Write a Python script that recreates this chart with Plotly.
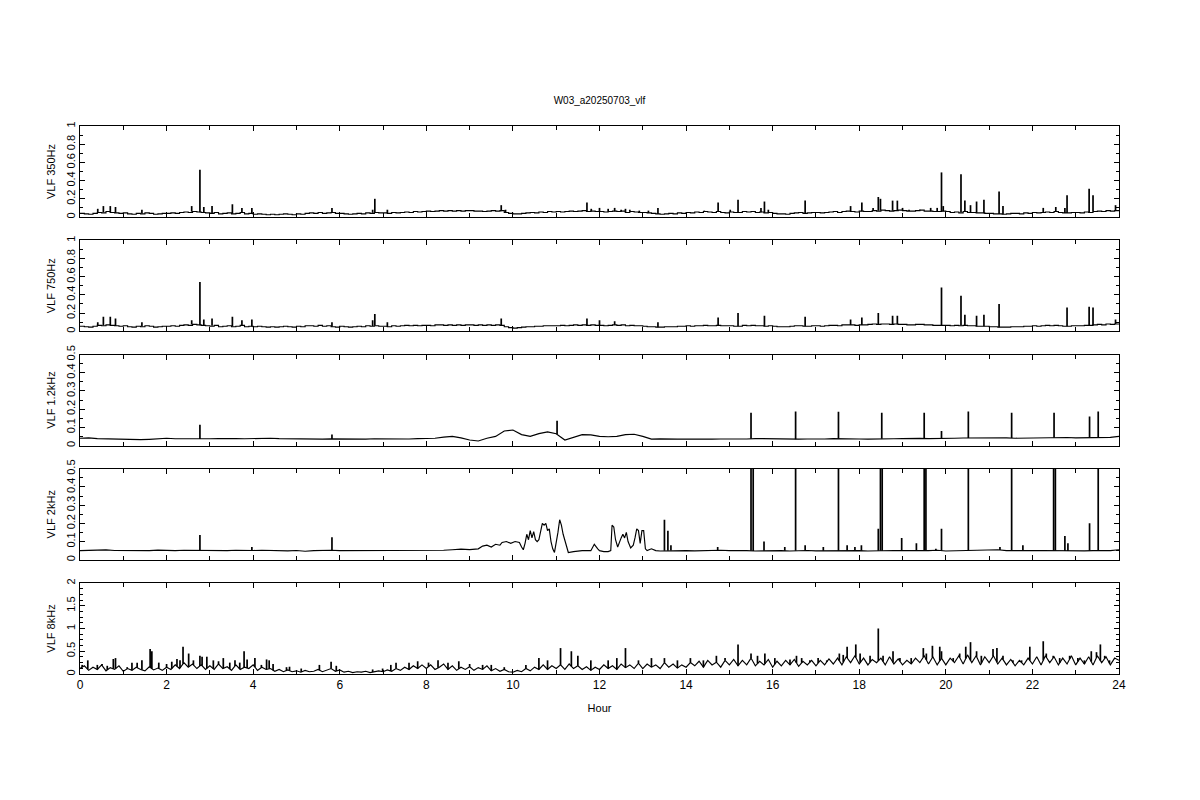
import numpy as np
import plotly.graph_objects as go

# ---------------- data ----------------
GRID_02 = [round(i * 0.2, 1) for i in range(121)]   # sample hours, 0.2 h step
GRID_01 = [round(i * 0.1, 1) for i in range(241)]   # sample hours, 0.1 h step

BASE_350 = [
    0.04, 0.035, 0.03, 0.04, 0.05, 0.045, 0.06, 0.05, 0.045, 0.04,
    0.045, 0.035, 0.03, 0.04, 0.035, 0.045, 0.04, 0.03, 0.035, 0.04,
    0.04, 0.045, 0.04, 0.05, 0.055, 0.05, 0.06, 0.055, 0.05, 0.045,
    0.04, 0.05, 0.035, 0.04, 0.045, 0.035, 0.04, 0.05, 0.035, 0.04,
    0.03, 0.035, 0.03, 0.025, 0.03, 0.025, 0.03, 0.035, 0.03, 0.025,
    0.035, 0.03, 0.04, 0.045, 0.04, 0.05, 0.04, 0.045, 0.05, 0.04,
    0.04, 0.035, 0.03, 0.035, 0.04, 0.035, 0.045, 0.04, 0.05, 0.045,
    0.045, 0.04, 0.05, 0.045, 0.05, 0.055, 0.05, 0.06, 0.055, 0.06,
    0.065, 0.06, 0.065, 0.07, 0.065, 0.07, 0.065, 0.07, 0.065, 0.07,
    0.07, 0.065, 0.065, 0.06, 0.065, 0.07, 0.065, 0.07, 0.05, 0.04,
    0.035, 0.035, 0.04, 0.045, 0.05, 0.045, 0.055, 0.05, 0.06, 0.055,
    0.06, 0.055, 0.06, 0.065, 0.06, 0.065, 0.07, 0.06, 0.065, 0.06,
    0.06, 0.055, 0.06, 0.065, 0.06, 0.065, 0.05, 0.06, 0.055, 0.05,
    0.05, 0.045, 0.04, 0.035, 0.03, 0.035, 0.04, 0.035, 0.045, 0.04,
    0.05, 0.045, 0.055, 0.05, 0.06, 0.055, 0.05, 0.06, 0.05, 0.045,
    0.055, 0.05, 0.05, 0.06, 0.055, 0.06, 0.05, 0.055, 0.045, 0.05,
    0.04, 0.035, 0.035, 0.03, 0.04, 0.045, 0.05, 0.04, 0.045, 0.05,
    0.05, 0.045, 0.05, 0.055, 0.06, 0.05, 0.06, 0.065, 0.06, 0.055,
    0.065, 0.06, 0.06, 0.07, 0.065, 0.075, 0.07, 0.065, 0.07, 0.075,
    0.07, 0.065, 0.065, 0.07, 0.075, 0.065, 0.065, 0.06, 0.06, 0.065,
    0.06, 0.05, 0.055, 0.045, 0.06, 0.05, 0.05, 0.045, 0.045, 0.04,
    0.04, 0.035, 0.035, 0.03, 0.035, 0.04, 0.04, 0.035, 0.045, 0.04,
    0.05, 0.045, 0.05, 0.055, 0.05, 0.06, 0.05, 0.045, 0.045, 0.05,
    0.05, 0.045, 0.055, 0.05, 0.06, 0.065, 0.06, 0.07, 0.065, 0.07, 0.07,
]
SPIKE_350_HOURS = [0.41, 0.54, 0.7, 0.82, 1.43, 2.58, 2.77, 2.86, 3.05, 3.52, 3.74, 3.97, 5.82, 6.76, 6.81, 7.1,
                   9.73, 9.83, 11.71, 11.81, 12.0, 12.2, 12.35, 12.5, 12.6, 12.7, 12.92, 13.13, 13.35, 14.42,
                   14.74, 15.02, 15.2, 15.73, 15.81, 15.9, 16.75, 17.8, 18.06, 18.32, 18.44, 18.49, 18.77, 18.88,
                   19.0, 19.15, 19.4, 19.65, 19.8, 19.9, 19.94, 20.35, 20.44, 20.57, 20.71, 20.88, 21.23, 21.32,
                   22.25, 22.54, 22.75, 22.8, 23.31, 23.4, 23.92]
SPIKE_350_VALUES = [0.09, 0.12, 0.12, 0.11, 0.08, 0.12, 0.52, 0.11, 0.12, 0.14, 0.1, 0.1, 0.1, 0.08, 0.2, 0.08,
                    0.13, 0.08, 0.16, 0.09, 0.1, 0.09, 0.1, 0.08, 0.09, 0.08, 0.07, 0.07, 0.1, 0.07,
                    0.16, 0.08, 0.19, 0.1, 0.17, 0.08, 0.18, 0.12, 0.16, 0.1, 0.22, 0.2, 0.18, 0.18,
                    0.1, 0.08, 0.08, 0.1, 0.1, 0.49, 0.12, 0.47, 0.18, 0.13, 0.17, 0.19, 0.28, 0.12,
                    0.1, 0.11, 0.1, 0.24, 0.31, 0.24, 0.13]

BASE_750 = [
    0.055, 0.05, 0.045, 0.055, 0.065, 0.06, 0.07, 0.065, 0.06, 0.055,
    0.06, 0.05, 0.045, 0.055, 0.05, 0.06, 0.055, 0.045, 0.05, 0.055,
    0.055, 0.06, 0.055, 0.065, 0.07, 0.065, 0.075, 0.07, 0.065, 0.06,
    0.055, 0.065, 0.05, 0.055, 0.06, 0.05, 0.055, 0.065, 0.05, 0.055,
    0.05, 0.055, 0.05, 0.045, 0.05, 0.045, 0.05, 0.055, 0.05, 0.045,
    0.055, 0.05, 0.06, 0.06, 0.055, 0.065, 0.055, 0.06, 0.05, 0.045,
    0.055, 0.05, 0.045, 0.05, 0.055, 0.05, 0.06, 0.055, 0.06, 0.055,
    0.055, 0.05, 0.06, 0.055, 0.06, 0.065, 0.06, 0.065, 0.06, 0.065,
    0.065, 0.06, 0.07, 0.07, 0.065, 0.07, 0.065, 0.07, 0.065, 0.07,
    0.07, 0.065, 0.07, 0.065, 0.07, 0.065, 0.07, 0.065, 0.05, 0.04,
    0.035, 0.04, 0.045, 0.05, 0.05, 0.055, 0.055, 0.06, 0.06, 0.06,
    0.06, 0.065, 0.06, 0.065, 0.07, 0.065, 0.07, 0.065, 0.07, 0.065,
    0.065, 0.06, 0.065, 0.07, 0.065, 0.07, 0.06, 0.065, 0.06, 0.06,
    0.055, 0.05, 0.05, 0.045, 0.045, 0.05, 0.05, 0.05, 0.055, 0.055,
    0.06, 0.055, 0.06, 0.06, 0.065, 0.06, 0.06, 0.065, 0.06, 0.06,
    0.06, 0.055, 0.055, 0.065, 0.06, 0.065, 0.06, 0.06, 0.055, 0.06,
    0.055, 0.05, 0.05, 0.05, 0.055, 0.06, 0.06, 0.055, 0.055, 0.06,
    0.06, 0.055, 0.06, 0.065, 0.065, 0.06, 0.07, 0.07, 0.07, 0.065,
    0.07, 0.07, 0.075, 0.08, 0.075, 0.08, 0.08, 0.075, 0.08, 0.075,
    0.075, 0.07, 0.07, 0.075, 0.075, 0.07, 0.07, 0.065, 0.065, 0.065,
    0.065, 0.06, 0.065, 0.06, 0.065, 0.06, 0.06, 0.055, 0.055, 0.055,
    0.05, 0.05, 0.045, 0.045, 0.045, 0.05, 0.05, 0.05, 0.055, 0.055,
    0.06, 0.055, 0.06, 0.065, 0.06, 0.065, 0.06, 0.055, 0.055, 0.06,
    0.06, 0.06, 0.065, 0.065, 0.07, 0.075, 0.07, 0.08, 0.075, 0.08, 0.08,
]
SPIKE_750_HOURS = [0.41, 0.54, 0.7, 0.82, 1.43, 2.58, 2.77, 2.86, 3.05, 3.52, 3.74, 3.97, 5.82, 6.76, 6.81, 7.1,
                   9.73, 11.71, 12.0, 12.35, 13.35, 14.74, 15.2, 15.81, 16.75, 17.8, 18.06, 18.44, 18.77, 18.88,
                   19.9, 20.35, 20.44, 20.71, 20.88, 21.23, 22.8, 23.31, 23.4, 23.92]
SPIKE_750_VALUES = [0.1, 0.16, 0.16, 0.14, 0.1, 0.12, 0.54, 0.13, 0.14, 0.16, 0.12, 0.13, 0.1, 0.12, 0.19, 0.1,
                    0.14, 0.14, 0.12, 0.11, 0.1, 0.15, 0.2, 0.17, 0.16, 0.13, 0.15, 0.2, 0.17, 0.17,
                    0.48, 0.39, 0.18, 0.17, 0.18, 0.3, 0.26, 0.27, 0.26, 0.13]

BASE_1K2 = [
    0.04, 0.042, 0.038, 0.036, 0.037,
    0.035, 0.033, 0.032, 0.034, 0.038,
    0.04, 0.037, 0.036, 0.037, 0.035,
    0.037, 0.038, 0.036, 0.038, 0.037,
    0.039, 0.038, 0.04, 0.038, 0.037,
    0.036, 0.037, 0.036, 0.035, 0.036,
    0.035, 0.034, 0.036, 0.035, 0.037,
    0.036, 0.038, 0.037, 0.036, 0.038,
    0.038, 0.04, 0.046, 0.05, 0.042,
    0.03, 0.025, 0.04, 0.05, 0.08,
    0.085, 0.06, 0.05, 0.065, 0.075,
    0.065, 0.03, 0.045, 0.06, 0.058,
    0.05, 0.048, 0.05, 0.06, 0.062,
    0.05, 0.035, 0.036, 0.034, 0.035,
    0.035, 0.034, 0.036, 0.035, 0.036,
    0.035, 0.037, 0.036, 0.038, 0.037,
    0.036, 0.035, 0.034, 0.035, 0.036,
    0.035, 0.036, 0.038, 0.036, 0.037,
    0.036, 0.035, 0.037, 0.038, 0.037,
    0.038, 0.04, 0.039, 0.038, 0.04,
    0.039, 0.04, 0.041, 0.042, 0.043,
    0.042, 0.044, 0.042, 0.04, 0.041,
    0.04, 0.042, 0.041, 0.043, 0.044,
    0.042, 0.043, 0.044, 0.043, 0.045, 0.05,
]
SPIKE_1K2_HOURS = [2.77, 5.82, 11.02, 15.5, 16.53, 17.52, 18.52, 19.5, 19.9, 20.52, 21.52, 22.5, 23.32, 23.52]
SPIKE_1K2_VALUES = [0.114, 0.06, 0.136, 0.18, 0.187, 0.185, 0.18, 0.18, 0.08, 0.187, 0.18, 0.18, 0.16, 0.187]

HOURS_2K = [
    0.0, 0.2, 0.4, 0.6, 0.8, 1.0, 1.2, 1.4, 1.6, 1.8, 2.0, 2.2, 2.4, 2.6, 2.8, 3.0, 3.2, 3.4, 3.6, 3.8,
    4.0, 4.2, 4.4, 4.6, 4.8, 5.0, 5.2, 5.4, 5.6, 5.8, 6.0, 6.2, 6.4, 6.6, 6.8, 7.0, 7.2, 7.4, 7.6, 7.8,
    8.0, 8.2, 8.4, 8.6, 8.8, 9.0, 9.2, 9.3, 9.4, 9.5, 9.6, 9.7, 9.75, 9.85, 9.95, 10.05, 10.15, 10.2,
    10.24, 10.28, 10.32, 10.36, 10.4, 10.44, 10.48, 10.52, 10.56, 10.6, 10.64, 10.68, 10.72, 10.76,
    10.8, 10.84, 10.88, 10.92, 10.96, 11.0, 11.04, 11.08, 11.12, 11.16, 11.2, 11.24, 11.28, 11.4, 11.6,
    11.8, 11.88, 11.96, 12.0, 12.1, 12.2, 12.26, 12.29, 12.33, 12.37, 12.42, 12.46, 12.5, 12.54, 12.58,
    12.62, 12.66, 12.72, 12.78, 12.82, 12.86, 12.9, 12.94, 12.98, 13.02, 13.06, 13.1, 13.2, 13.3, 13.4,
    13.6, 13.8, 14.0, 14.2, 14.4, 14.6, 14.8, 15.0, 15.2, 15.4, 15.6, 15.8, 16.0, 16.2, 16.4, 16.6,
    16.8, 17.0, 17.2, 17.4, 17.6, 17.8, 18.0, 18.2, 18.4, 18.6, 18.8, 19.0, 19.2, 19.4, 19.6, 19.8,
    20.0, 20.2, 20.4, 20.6, 20.8, 21.0, 21.2, 21.4, 21.6, 21.8, 22.0, 22.2, 22.4, 22.6, 22.8, 23.0,
    23.2, 23.4, 23.6, 23.8, 24.0,
]
BASE_2K = [
    0.05, 0.052, 0.05, 0.054, 0.051, 0.05, 0.052, 0.049, 0.05, 0.053, 0.051, 0.05, 0.052, 0.051, 0.05,
    0.049, 0.051, 0.05, 0.052, 0.05, 0.051, 0.052, 0.05, 0.05, 0.049, 0.051, 0.047, 0.05, 0.053, 0.052,
    0.05, 0.05, 0.052, 0.049, 0.051, 0.052, 0.05, 0.049, 0.05, 0.052,
    0.05, 0.051, 0.052, 0.055, 0.058, 0.056, 0.06, 0.075, 0.08, 0.07, 0.085, 0.08, 0.095, 0.1, 0.09,
    0.1, 0.095, 0.07, 0.055, 0.09, 0.14, 0.11, 0.16, 0.12, 0.155, 0.11, 0.1, 0.11, 0.15, 0.2, 0.19,
    0.2, 0.16, 0.17, 0.1, 0.06, 0.04, 0.09, 0.15, 0.22, 0.19, 0.14, 0.11, 0.07, 0.04, 0.045, 0.05,
    0.05, 0.085, 0.06, 0.05, 0.045, 0.045, 0.05, 0.19, 0.18, 0.11, 0.07, 0.1, 0.12, 0.14, 0.12,
    0.15, 0.1, 0.065, 0.08, 0.12, 0.17, 0.16, 0.09, 0.16, 0.16, 0.06, 0.05, 0.06, 0.05, 0.048,
    0.05, 0.052, 0.05, 0.049, 0.051, 0.05, 0.052, 0.05, 0.051, 0.05, 0.048, 0.05, 0.049, 0.05, 0.048, 0.05,
    0.051, 0.049, 0.05, 0.048, 0.05, 0.052, 0.05, 0.048, 0.05, 0.049, 0.051, 0.05, 0.052, 0.05, 0.05, 0.052,
    0.048, 0.049, 0.05, 0.051, 0.05, 0.052, 0.055, 0.05, 0.049, 0.052, 0.05, 0.051, 0.05, 0.049, 0.048, 0.05,
    0.049, 0.05, 0.048, 0.05, 0.055,
]
SPIKE_2K_HOURS = [2.77, 3.97, 5.82, 13.5, 13.58, 13.65, 14.73, 15.5, 15.55, 15.8, 16.28, 16.53, 16.75, 17.17,
                  17.52, 17.72, 17.9, 18.05, 18.44, 18.49, 18.53, 18.98, 19.32, 19.5, 19.54, 19.77, 19.9,
                  20.52, 21.25, 21.52, 21.78, 22.49, 22.53, 22.75, 22.82, 23.32, 23.52]
SPIKE_2K_VALUES = [0.136, 0.07, 0.124, 0.22, 0.16, 0.08, 0.07, 1.0, 1.0, 0.1, 0.07, 1.0, 0.08, 0.07,
                   1.0, 0.08, 0.07, 0.08, 0.17, 1.0, 1.0, 0.12, 0.09, 1.0, 1.0, 0.06, 0.17,
                   1.0, 0.07, 1.0, 0.08, 1.0, 1.0, 0.13, 0.09, 0.2, 1.0]

BASE_8K = [
    0.12, 0.18, 0.08, 0.15, 0.1, 0.2, 0.07, 0.14, 0.1, 0.18,
    0.06, 0.12, 0.08, 0.15, 0.1, 0.07, 0.16, 0.09, 0.13, 0.08,
    0.15, 0.1, 0.2, 0.12, 0.25, 0.15, 0.22, 0.12, 0.2, 0.1,
    0.18, 0.1, 0.22, 0.12, 0.16, 0.08, 0.2, 0.1, 0.15, 0.12,
    0.2, 0.08, 0.15, 0.1, 0.12, 0.06, 0.1, 0.05, 0.09, 0.05,
    0.07, 0.04, 0.08, 0.05, 0.06, 0.1, 0.05, 0.08, 0.12, 0.06,
    0.09, 0.04, 0.06, 0.03, 0.05, 0.04, 0.06, 0.03, 0.05, 0.07,
    0.05, 0.09, 0.06, 0.12, 0.08, 0.15, 0.1, 0.18, 0.12, 0.2,
    0.12, 0.2, 0.1, 0.15, 0.22, 0.1, 0.18, 0.08, 0.15, 0.1,
    0.16, 0.08, 0.14, 0.1, 0.18, 0.07, 0.12, 0.06, 0.1, 0.05,
    0.04, 0.08, 0.05, 0.12, 0.07, 0.15, 0.1, 0.2, 0.1, 0.18,
    0.12, 0.2, 0.1, 0.22, 0.12, 0.18, 0.1, 0.16, 0.08, 0.15,
    0.1, 0.2, 0.12, 0.18, 0.1, 0.22, 0.14, 0.2, 0.12, 0.24,
    0.12, 0.22, 0.15, 0.2, 0.12, 0.25, 0.15, 0.22, 0.13, 0.2,
    0.15, 0.25, 0.18, 0.28, 0.15, 0.3, 0.2, 0.26, 0.15, 0.3,
    0.2, 0.32, 0.18, 0.3, 0.2, 0.35, 0.18, 0.28, 0.2, 0.32,
    0.15, 0.28, 0.18, 0.3, 0.2, 0.32, 0.17, 0.28, 0.2, 0.3,
    0.18, 0.3, 0.2, 0.33, 0.22, 0.35, 0.2, 0.38, 0.25, 0.4,
    0.22, 0.35, 0.2, 0.32, 0.25, 0.35, 0.2, 0.38, 0.22, 0.33,
    0.2, 0.3, 0.22, 0.35, 0.25, 0.4, 0.22, 0.38, 0.2, 0.35,
    0.2, 0.35, 0.25, 0.4, 0.22, 0.42, 0.25, 0.4, 0.2, 0.38,
    0.25, 0.4, 0.22, 0.35, 0.2, 0.32, 0.18, 0.3, 0.2, 0.35,
    0.22, 0.38, 0.2, 0.4, 0.25, 0.38, 0.2, 0.35, 0.22, 0.4,
    0.2, 0.35, 0.22, 0.38, 0.2, 0.4, 0.25, 0.38, 0.2, 0.35, 0.3,
]
SPIKE_8K_HOURS = [0.05, 0.18, 0.4, 0.51, 0.63, 0.77, 0.82, 1.09, 1.2, 1.32, 1.43, 1.62, 1.66, 1.82, 2.0,
                  2.12, 2.24, 2.31, 2.38, 2.51, 2.62, 2.77, 2.82, 2.93, 3.08, 3.2, 3.31, 3.46, 3.58, 3.69,
                  3.79, 3.86, 4.04, 4.19, 4.31, 4.37, 4.46, 4.77, 4.84, 5.11, 5.53, 5.8, 5.92, 6.76, 6.99,
                  7.18, 7.3, 7.6, 7.8, 8.05, 8.27, 8.5, 8.75, 9.0, 9.3, 9.5, 9.8, 10.3, 10.6, 10.8, 11.1,
                  11.35, 11.5, 11.8, 12.2, 12.4, 12.6, 12.9, 13.2, 13.5, 13.8, 14.1, 14.4, 14.7, 14.9,
                  15.2, 15.5, 15.65, 15.82, 16.05, 16.4, 16.55, 16.67, 16.86, 17.05, 17.25, 17.54, 17.63,
                  17.72, 17.92, 18.02, 18.25, 18.44, 18.55, 18.78, 18.94, 19.2, 19.48, 19.55, 19.69, 19.86,
                  19.9, 20.17, 20.32, 20.46, 20.57, 20.71, 20.82, 21.09, 21.18, 21.32, 21.55, 21.75, 21.94,
                  22.25, 22.32, 22.48, 22.63, 22.86, 23.05, 23.2, 23.36, 23.48, 23.57, 23.67, 23.78, 23.9]
SPIKE_8K_VALUES = [0.2, 0.3, 0.2, 0.22, 0.18, 0.33, 0.35, 0.15, 0.25, 0.25, 0.3, 0.55, 0.5, 0.25, 0.22,
                   0.27, 0.33, 0.3, 0.6, 0.45, 0.3, 0.4, 0.38, 0.38, 0.3, 0.28, 0.35, 0.25, 0.3, 0.25,
                   0.5, 0.32, 0.35, 0.2, 0.32, 0.3, 0.22, 0.15, 0.16, 0.12, 0.2, 0.27, 0.18, 0.1, 0.12,
                   0.2, 0.25, 0.25, 0.28, 0.25, 0.3, 0.25, 0.28, 0.22, 0.2, 0.2, 0.15, 0.2, 0.35, 0.3, 0.57,
                   0.5, 0.4, 0.3, 0.3, 0.35, 0.57, 0.3, 0.35, 0.35, 0.3, 0.35, 0.3, 0.4, 0.35,
                   0.65, 0.45, 0.4, 0.45, 0.35, 0.32, 0.4, 0.35, 0.3, 0.35, 0.3, 0.45, 0.42,
                   0.6, 0.65, 0.45, 0.4, 1.0, 0.4, 0.5, 0.35, 0.35, 0.57, 0.45, 0.62, 0.6,
                   0.5, 0.35, 0.45, 0.6, 0.7, 0.5, 0.4, 0.55, 0.57, 0.4, 0.3, 0.3, 0.6,
                   0.72, 0.45, 0.4, 0.35, 0.4, 0.35, 0.3, 0.5, 0.48, 0.65, 0.4, 0.3, 0.35]

TITLE = "W03_a20250703_vlf"
Y_LABELS = ["VLF 350Hz", "VLF 750Hz", "VLF 1.2kHz", "VLF 2kHz", "VLF 8kHz"]
Y_MAX = [1, 1, 0.5, 0.5, 2]
Y_MAJOR = [0.2, 0.2, 0.1, 0.1, 0.5]
Y_MINOR = [0.1, 0.1, 0.05, 0.05, 0.125]
X_TICKS = [0, 2, 4, 6, 8, 10, 12, 14, 16, 18, 20, 22, 24]

panels = [
    (GRID_01, BASE_350, SPIKE_350_HOURS, SPIKE_350_VALUES),
    (GRID_01, BASE_750, SPIKE_750_HOURS, SPIKE_750_VALUES),
    (GRID_02, BASE_1K2, SPIKE_1K2_HOURS, SPIKE_1K2_VALUES),
    (HOURS_2K, BASE_2K, SPIKE_2K_HOURS, SPIKE_2K_VALUES),
    (GRID_01, BASE_8K, SPIKE_8K_HOURS, SPIKE_8K_VALUES),
]
LINE_SHAPES = ["hv", "hv", "linear", "linear", "linear"]

# ---------------- figure ----------------
W, H = 1200, 800
OFF = 8                      # page body offset of the rendered figure
ML, MR, MT, MB = 80 - OFF, 81 + OFF, 126 - OFF, 126 + OFF
PH = H - MT - MB
PANEL_H = 91
PANEL_STEP = 114.25
FONT = "Liberation Sans"

fig = go.Figure()
layout = {}
for i, (hx, hy, sx, sy) in enumerate(panels):
    n = "" if i == 0 else str(i + 1)
    fig.add_trace(go.Scatter(x=hx, y=hy, mode="lines",
                             line=dict(color="black", width=1.15, shape=LINE_SHAPES[i]),
                             xaxis="x" + n, yaxis="y" + n, showlegend=False, hoverinfo="skip"))
    base_at = np.interp(sx, hx, hy)
    vx, vy = [], []
    for t, b, v in zip(sx, base_at, sy):
        vx += [t, t, None]
        vy += [float(b), v, None]
    fig.add_trace(go.Scatter(x=vx, y=vy, mode="lines", line=dict(color="black", width=1.7),
                             xaxis="x" + n, yaxis="y" + n, showlegend=False, hoverinfo="skip"))
    top_px = i * PANEL_STEP
    d1 = 1 - top_px / PH
    d0 = max(0, 1 - (top_px + PANEL_H) / PH)
    last = i == len(panels) - 1
    layout["xaxis" + n] = dict(
        domain=[0, 1], anchor="y" + n, range=[0, 24], tickvals=X_TICKS,
        ticks="inside", ticklen=5, tickwidth=1, tickcolor="black",
        minor=dict(dtick=1, tick0=0, ticks="inside", ticklen=4, tickcolor="black"),
        showline=True, linecolor="black", linewidth=1, mirror="ticks",
        showgrid=False, zeroline=False, showticklabels=last, automargin=False,
        tickfont=dict(family=FONT, size=12, color="black"),
        title=dict(text="Hour" if last else "", font=dict(family=FONT, size=11, color="black"), standoff=12),
    )
    layout["yaxis" + n] = dict(
        domain=[d0, d1], anchor="x" + n, range=[0, Y_MAX[i]], dtick=Y_MAJOR[i], tick0=0,
        ticks="inside", ticklen=5, tickwidth=1, tickcolor="black", tickangle=-90,
        minor=dict(dtick=Y_MINOR[i], tick0=0, ticks="inside", ticklen=3, tickcolor="black"),
        showline=True, linecolor="black", linewidth=1, mirror="ticks",
        showgrid=False, zeroline=False, automargin=False,
        tickfont=dict(family=FONT, size=11, color="black"),
        title=dict(text=Y_LABELS[i], font=dict(family=FONT, size=11, color="black"), standoff=6),
    )

fig.update_layout(
    width=W, height=H, paper_bgcolor="white", plot_bgcolor="white",
    margin=dict(l=ML, r=MR, t=MT, b=MB),
    title=dict(text=TITLE, x=(ML + (W - ML - MR) / 2) / W, xanchor="center",
               y=1 - (100 - OFF) / H, yanchor="middle",
               font=dict(family=FONT, size=10, color="black")),
    **layout,
)

fig.write_html("out.html")
